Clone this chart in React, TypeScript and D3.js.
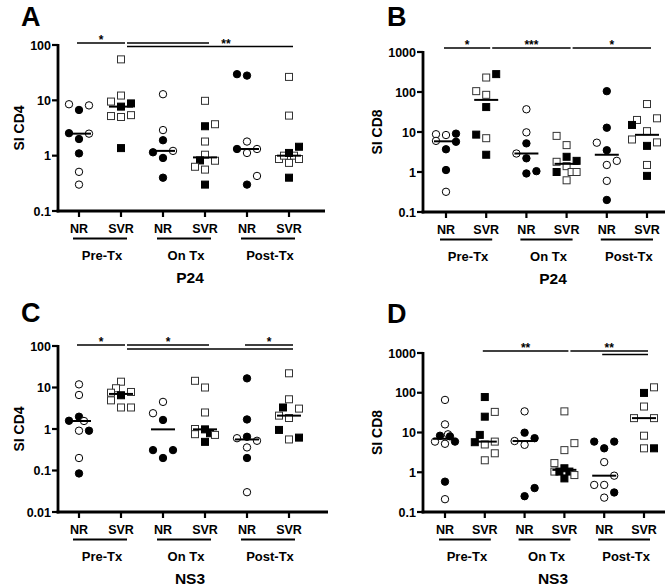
import React from "react";
import * as d3 from "d3";

// [value, filled (1) / open (0), column offset]
type Pt = [number, number, number];
type Sig = { from: number; to: number; row: number; label: string; at?: number };

const categories = ["NR", "SVR", "NR", "SVR", "NR", "SVR"];
const groups = ["Pre-Tx", "On Tx", "Post-Tx"];
const panelLetters = ["A", "B", "C", "D"];
const antigenTitles = ["P24", "P24", "NS3", "NS3"];
const yTitles = ["SI CD4", "SI CD8", "SI CD4", "SI CD8"];

const p24Cd4: Pt[][] = [
  [[8.5, 0, -1], [6.7, 1, 0], [8.1, 0, 1], [2.55, 1, -1], [2.5, 0, 1], [2.0, 1, 0], [1.1, 1, 0], [0.51, 0, 0], [0.3, 0, 0]],
  [[55, 0, 0], [12.2, 0, 0], [9.5, 0, -1], [7.7, 1, 0], [8.8, 1, 1], [5.2, 0, -1], [5.0, 0, 0], [5.4, 0, 1], [1.37, 1, 0]],
  [[12.9, 0, 0], [2.9, 0, 0], [1.9, 1, 0], [1.15, 1, -1], [1.22, 0, 1], [0.91, 1, 0], [0.4, 1, 0]],
  [[9.8, 0, 0], [3.4, 1, 0], [3.7, 0, 1], [1.8, 0, 0], [1.04, 0, 0], [0.82, 1, -0.5], [0.81, 0, 1], [0.63, 0, -1], [0.56, 0, 0], [0.3, 1, 0]],
  [[29.7, 1, -1], [28, 1, 0], [1.8, 0, 0], [1.32, 1, -1], [1.12, 0, 0], [1.32, 0, 1], [0.43, 0, 1], [0.3, 1, 0]],
  [[26.5, 0, 0], [5.3, 0, 0], [1.45, 1, 1], [0.87, 0, -1], [1.0, 0, -0.5], [1.0, 0, 0.5], [0.87, 0, 1], [1.12, 1, 0], [0.74, 0, 0], [0.4, 1, 0]],
];

const p24Cd8: Pt[][] = [
  [[8.8, 0, -1], [6.0, 0, -1], [8.4, 0, 0], [9.1, 1, 1], [5.7, 1, 1], [3.7, 1, 0], [1.12, 1, 0], [0.32, 0, 0]],
  [[280, 1, 1], [230, 0, 0], [105, 0, -1], [85, 0, 0], [42, 1, 0], [8.6, 1, -1], [7.0, 0, 0], [2.7, 1, 0]],
  [[37, 0, 0], [9.8, 0, 0], [5.2, 1, 0], [2.9, 0, -1], [2.2, 1, 0], [0.92, 1, 0], [1.05, 1, 1]],
  [[8.0, 0, -1], [4.7, 0, 0], [2.4, 1, 0], [1.9, 1, 1], [1.8, 0, -1], [1.4, 0, 0], [1.0, 1, -1], [1.0, 0, 0.5], [1.0, 0, 1], [0.62, 0, 0]],
  [[105, 1, 0], [12.8, 1, 0], [5.4, 0, -1], [3.5, 1, 0], [1.9, 0, 1], [1.5, 0, 0], [0.6, 0, 0], [0.2, 1, 0]],
  [[50, 0, 0], [20, 0, -1], [22, 0, 1], [15, 1, -1.5], [10.5, 0, 0], [6.5, 0, -1.5], [4.5, 1, 0], [5.5, 0, 1], [1.5, 0, 0], [0.8, 1, 0]],
];

const ns3Cd4: Pt[][] = [
  [[11.9, 0, 0], [6.6, 0, 0], [1.98, 1, 0], [1.58, 1, -1], [1.56, 0, 0.5], [0.91, 0, 0], [0.91, 1, 1], [0.2, 0, 0], [0.085, 1, 0]],
  [[13.8, 0, 0], [9.6, 0, -0.5], [7.5, 0, -1], [7.8, 0, 1], [6.5, 1, 0], [4.9, 0, -1], [3.3, 0, 0], [3.3, 0, 1]],
  [[4.5, 0, 0], [2.4, 0, -1], [1.65, 1, 0], [0.31, 1, -1], [0.31, 1, 1], [0.2, 1, 0]],
  [[14.5, 0, -1], [10, 0, 0], [2.5, 0, 0], [1.0, 0, -1], [0.98, 1, 0], [0.75, 0, -1], [0.79, 1, 0.5], [0.72, 0, 1], [0.49, 1, 0]],
  [[16.6, 1, 0], [1.7, 1, 0], [0.65, 1, 0], [0.6, 0, -1], [0.52, 0, 1], [0.36, 0, 0], [0.2, 1, 0], [0.03, 0, 0]],
  [[22, 0, 0], [5.2, 0, 0], [3.3, 1, -0.6], [3.1, 0, 1], [2.1, 0, -1], [1.84, 0, 0], [0.95, 1, -1], [0.56, 0, 0], [0.62, 1, 1]],
];

const ns3Cd8: Pt[][] = [
  [[66, 0, 0], [16, 0, 0], [9.0, 0, 0.3], [8.3, 1, -0.5], [8.0, 1, 0.5], [5.9, 0, -1], [5.2, 0, 0], [5.9, 1, 1], [0.58, 1, 0], [0.21, 0, 0]],
  [[78, 1, 0], [33, 0, 1], [25, 1, 0], [8.7, 1, -0.5], [5.7, 1, -1], [5.0, 0, 0], [5.9, 0, 1], [3.0, 0, 1], [2.0, 0, 0]],
  [[34, 0, 0], [9.9, 1, 0], [7.2, 1, 1], [6.1, 0, -1], [4.9, 0, 0], [0.4, 1, 1], [0.25, 1, 0]],
  [[34, 0, 0], [5.4, 0, 1], [3.6, 0, 0], [1.7, 0, -1], [1.26, 1, 0], [1.04, 0, -1], [1.04, 1, -0.5], [1.04, 1, 0.5], [0.85, 0, 1], [0.7, 1, 0]],
  [[5.9, 1, -1], [5.9, 1, 1], [4.0, 1, 0], [1.8, 0, 0], [0.82, 0, 1], [0.48, 0, -1], [0.48, 0, 0], [0.31, 1, 1], [0.23, 0, 0]],
  [[137, 0, 1], [99, 1, 0], [45, 0, 0], [23, 0, -1], [23, 0, 1], [8.3, 0, 0], [4.0, 0, 0], [4.0, 1, 1]],
];

const p24Cd4Sig: Sig[] = [
  { from: 0, to: 1, row: 0, label: "*" },
  { from: 1, to: 3, row: 0, label: "" },
  { from: 1, to: 5, row: 1, label: "**", at: 3.5 },
];
const p24Cd8Sig: Sig[] = [
  { from: 0, to: 1, row: 0, label: "*" },
  { from: 1, to: 3, row: 0, label: "***" },
  { from: 3, to: 5, row: 0, label: "*" },
];
const ns3Cd4Sig: Sig[] = [
  { from: 0, to: 1, row: 0, label: "*" },
  { from: 1, to: 3, row: 0, label: "*" },
  { from: 1, to: 5, row: 1, label: "" },
  { from: 4, to: 5, row: 0, label: "*" },
];
const ns3Cd8Sig: Sig[] = [
  { from: 1, to: 3, row: 0, label: "**" },
  { from: 3, to: 5, row: 0, label: "**" },
  { from: 4, to: 5, row: 1, label: "" },
];

const cd4Ticks = [0.1, 1, 10, 100];
const cd8Ticks = [0.1, 1, 10, 100, 1000];
const ns3Cd4Ticks = [0.01, 0.1, 1, 10, 100];

type Layout = {
  axisX: number; xFirst: number; xLast: number; xEnd: number;
  yTop: number; yBot: number; sigY: number; rowGap: number;
  letterX: number; letterY: number; yLabelX: number; titleX: number;
};

const layouts: Layout[] = [
  { axisX: 58, xFirst: 79, xLast: 289, xEnd: 325, yTop: 45, yBot: 211, sigY: 43, rowGap: 3.5, letterX: 21, letterY: 26, yLabelX: 20, titleX: 190 },
  { axisX: 423, xFirst: 446, xLast: 647, xEnd: 665, yTop: 52, yBot: 212, sigY: 48, rowGap: 4, letterX: 387, letterY: 26, yLabelX: 378, titleX: 553 },
  { axisX: 58, xFirst: 79, xLast: 289, xEnd: 328, yTop: 346, yBot: 512, sigY: 345, rowGap: 4, letterX: 21, letterY: 322, yLabelX: 20, titleX: 190 },
  { axisX: 423, xFirst: 445, xLast: 644, xEnd: 665, yTop: 353, yBot: 512, sigY: 351, rowGap: 3.5, letterX: 387, letterY: 323, yLabelX: 378, titleX: 553 },
];

const FONT = "'Liberation Sans', Arial, Helvetica, sans-serif";
const COL = 10;

function fmt(v: number) {
  return v >= 1 ? String(v) : String(+v.toPrecision(1));
}

function Panel({ idx, data, sig, ticks }: { idx: number; data: Pt[][]; sig: Sig[]; ticks: number[] }) {
  const L = layouts[idx];
  const x = d3.scaleLinear().domain([0, categories.length - 1]).range([L.xFirst, L.xLast]);
  const y = d3.scaleLog().domain([ticks[0], ticks[ticks.length - 1]]).range([L.yBot, L.yTop]);
  const ends = new Set(sig.map((s) => s.to));
  const sq = 7;
  const r = 3.7;
  return (
    <g fontFamily={FONT} fontWeight="bold" fill="#000">
      <text x={L.letterX} y={L.letterY} fontSize={27}>{panelLetters[idx]}</text>
      <text
        transform={`translate(${L.yLabelX},${(L.yTop + L.yBot) / 2}) rotate(-90)`}
        textAnchor="middle"
        dominantBaseline="middle"
        fontSize={14}
      >
        {yTitles[idx]}
      </text>
      {/* y axis */}
      <line x1={L.axisX} x2={L.axisX} y1={L.yTop - 1} y2={L.yBot + 1.4} stroke="#000" strokeWidth={2.8} />
      {ticks.map((t) => (
        <g key={t}>
          <line x1={L.axisX - 6} x2={L.axisX} y1={y(t)} y2={y(t)} stroke="#000" strokeWidth={2.2} />
          <text x={L.axisX - 7} y={y(t)} dy="0.36em" textAnchor="end" fontSize={12.5}>{fmt(t)}</text>
        </g>
      ))}
      {/* x axis */}
      <line x1={L.axisX - 1.4} x2={L.xEnd} y1={L.yBot} y2={L.yBot} stroke="#000" strokeWidth={2.8} />
      {categories.map((c, i) => (
        <g key={i}>
          <line x1={x(i)} x2={x(i)} y1={L.yBot} y2={L.yBot + 6} stroke="#000" strokeWidth={2.2} />
          <text x={x(i)} y={L.yBot + 22} textAnchor="middle" fontSize={12.5}>{c}</text>
        </g>
      ))}
      {groups.map((g, gi) => (
        <g key={g}>
          <line x1={x(gi * 2) - 6} x2={x(gi * 2 + 1) + 6} y1={L.yBot + 27.5} y2={L.yBot + 27.5} stroke="#000" strokeWidth={2.2} />
          <text x={(x(gi * 2) + x(gi * 2 + 1)) / 2 + 2} y={L.yBot + 49} textAnchor="middle" fontSize={13}>{g}</text>
        </g>
      ))}
      <text x={L.titleX} y={L.yBot + 72} textAnchor="middle" fontSize={15.5}>{antigenTitles[idx]}</text>
      {/* significance bars */}
      {sig.map((s, si) => {
        const x1 = x(s.from) + (ends.has(s.from) && s.from !== 5 ? 6 : -2);
        const x2 = x(s.to) + 4;
        const yy = L.sigY + s.row * L.rowGap;
        const lx = s.at !== undefined ? x(s.at) : (x1 + x2) / 2;
        return (
          <g key={si}>
            <line x1={x1} x2={x2} y1={yy} y2={yy} stroke="#000" strokeWidth={1.5} />
            {s.label && (
              <text x={lx} y={yy + 1} textAnchor="middle" fontSize={12}>{s.label}</text>
            )}
          </g>
        );
      })}
      {/* points */}
      {data.map((pts, ci) => {
        const med = d3.median(pts.map((p) => p[0])) as number;
        const circle = ci % 2 === 0;
        return (
          <g key={ci}>
            {pts.map((p, pi) => {
              const cx = x(ci) + p[2] * COL;
              const cy = y(p[0]);
              const fill = p[1] ? "#000" : "#fff";
              return circle ? (
                <circle key={pi} cx={cx} cy={cy} r={r} fill={fill} stroke="#000" strokeWidth={1} />
              ) : (
                <rect key={pi} x={cx - sq / 2} y={cy - sq / 2} width={sq} height={sq} fill={fill} stroke={p[1] ? "#000" : "#333"} strokeWidth={1} />
              );
            })}
            <line x1={x(ci) - 12} x2={x(ci) + 12} y1={y(med)} y2={y(med)} stroke="#000" strokeWidth={2} />
          </g>
        );
      })}
    </g>
  );
}

export default function App() {
  return (
    <svg width={670} height={588} style={{ position: "absolute", left: 0, top: 0, background: "#fff" }}>
      <rect width={670} height={588} fill="#fff" />
      <Panel idx={0} data={p24Cd4} sig={p24Cd4Sig} ticks={cd4Ticks} />
      <Panel idx={1} data={p24Cd8} sig={p24Cd8Sig} ticks={cd8Ticks} />
      <Panel idx={2} data={ns3Cd4} sig={ns3Cd4Sig} ticks={ns3Cd4Ticks} />
      <Panel idx={3} data={ns3Cd8} sig={ns3Cd8Sig} ticks={cd8Ticks} />
    </svg>
  );
}
